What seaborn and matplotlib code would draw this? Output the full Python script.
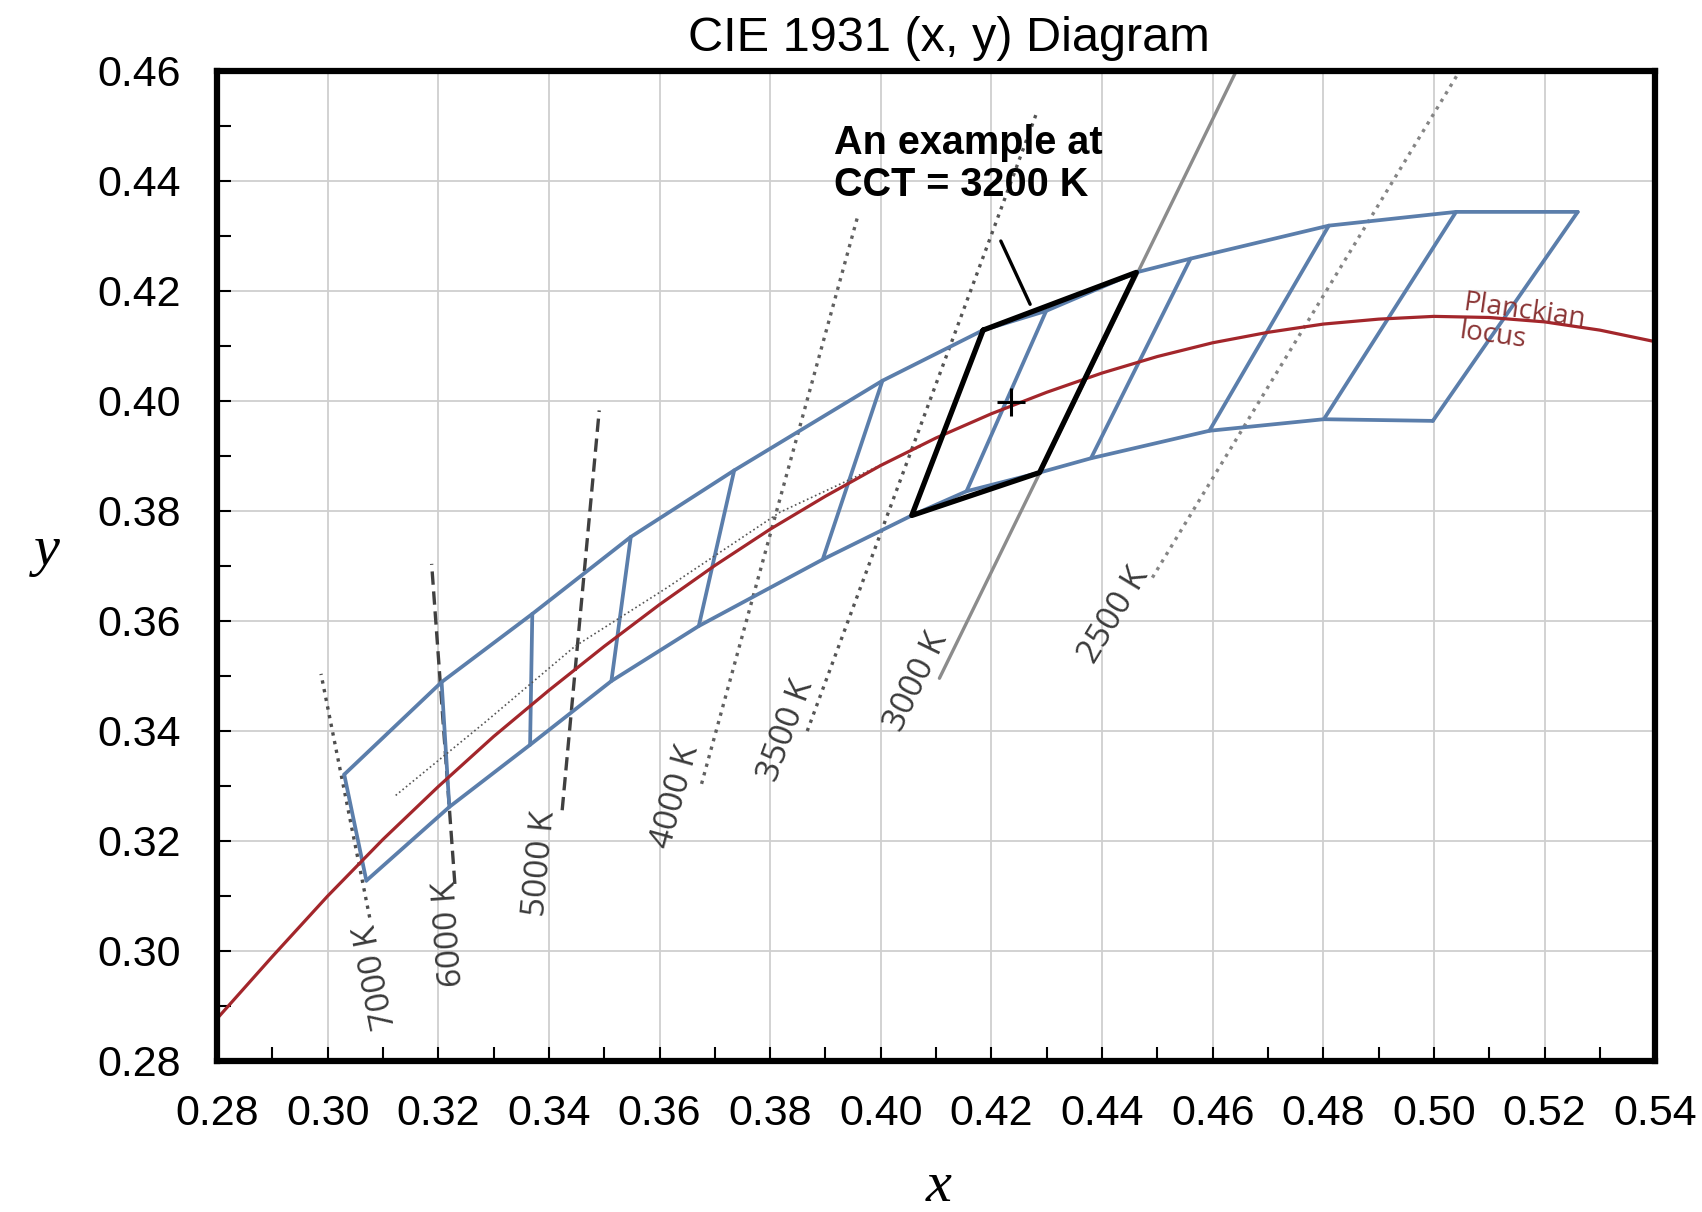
import numpy as np
import pandas as pd
import matplotlib
matplotlib.use("Agg")
import matplotlib.pyplot as plt
from matplotlib.ticker import MultipleLocator
import seaborn as sns

# %%
# Planckian locus
locus_x = [0.28, 0.29, 0.30, 0.31, 0.32, 0.33, 0.34, 0.35, 0.36, 0.37, 0.38, 0.39, 0.40, 0.41,
           0.42, 0.43, 0.44, 0.45, 0.46, 0.47, 0.48, 0.49, 0.50, 0.51, 0.52, 0.53, 0.54]
locus_y = [0.2876, 0.2989, 0.3099, 0.3202, 0.3298, 0.3389, 0.3473, 0.3553, 0.3629, 0.3700,
           0.3766, 0.3826, 0.3882, 0.3932, 0.3976, 0.4015, 0.4050, 0.4080, 0.4105, 0.4124,
           0.4139, 0.4148, 0.4153, 0.4151, 0.4143, 0.4128, 0.4107]

# thin dotted line through the quadrangle centres
centro_x = [0.3123, 0.3287, 0.3447, 0.3611, 0.3818, 0.4073]
centro_y = [0.3282, 0.3417, 0.3553, 0.3658, 0.3797, 0.3917]

# upper / lower boundaries of the quadrangles
sup_x = [0.3030, 0.3206, 0.3370, 0.3548, 0.3735, 0.4003, 0.4185, 0.4299, 0.4462, 0.4560, 0.4810, 0.5040, 0.5260]
sup_y = [0.3320, 0.3488, 0.3612, 0.3752, 0.3873, 0.4036, 0.4128, 0.4163, 0.4233, 0.4258, 0.4318, 0.4343, 0.4343]
inf_x = [0.3070, 0.3220, 0.3366, 0.3513, 0.3671, 0.3895, 0.4056, 0.4155, 0.4287, 0.4380, 0.4594, 0.4801, 0.4998]
inf_y = [0.3127, 0.3261, 0.3374, 0.3490, 0.3590, 0.3711, 0.3791, 0.3835, 0.3869, 0.3895, 0.3945, 0.3966, 0.3963]

# quadrangle dividers (top point -> bottom point)
div_top_x = [0.3030, 0.3206, 0.3370, 0.3548, 0.3735, 0.4003, 0.4299, 0.4560, 0.4810, 0.5040, 0.5260]
div_top_y = [0.3320, 0.3488, 0.3612, 0.3752, 0.3873, 0.4036, 0.4163, 0.4258, 0.4318, 0.4343, 0.4343]
div_bot_x = [0.3070, 0.3220, 0.3366, 0.3513, 0.3671, 0.3895, 0.4155, 0.4380, 0.4594, 0.4801, 0.4998]
div_bot_y = [0.3127, 0.3261, 0.3374, 0.3490, 0.3590, 0.3711, 0.3835, 0.3895, 0.3945, 0.3966, 0.3963]

# example quadrangle at CCT = 3200 K
ex_x = [0.4185, 0.4462, 0.4287, 0.4056, 0.4185]
ex_y = [0.4128, 0.4233, 0.3869, 0.3791, 0.4128]
ex_centro = (0.4236, 0.3998)

# isotemperature lines
iso_label = ['7000 K', '6000 K', '5000 K', '4000 K', '3500 K', '3000 K', '2500 K']
iso_bot_x = [0.3076, 0.3230, 0.3424, 0.3676, 0.3867, 0.4106, 0.4491]
iso_bot_y = [0.3060, 0.3121, 0.3255, 0.3303, 0.3399, 0.3495, 0.3678]
iso_top_x = [0.2988, 0.3188, 0.3491, 0.3958, 0.4281, 0.4643, 0.5047]
iso_top_y = [0.3503, 0.3703, 0.3982, 0.4334, 0.4521, 0.4600, 0.4600]
iso_txt_x = [0.3088, 0.3221, 0.3385, 0.3630, 0.3830, 0.4064, 0.4421]
iso_txt_y = [0.2952, 0.3030, 0.3158, 0.3279, 0.3399, 0.3489, 0.3609]
iso_estilo = [':', (0, (4, 2)), (0, (4, 2)), ':', ':', '-', ':']
iso_cor = ['#4d4d4d', '#404040', '#404040', '#606060', '#555555', '#8c8c8c', '#858585']

x_ticks = [0.28, 0.30, 0.32, 0.34, 0.36, 0.38, 0.40, 0.42, 0.44, 0.46, 0.48, 0.50, 0.52, 0.54]
y_ticks = [0.28, 0.30, 0.32, 0.34, 0.36, 0.38, 0.40, 0.42, 0.44, 0.46]

# %%
sns.set_theme(style="ticks")
plt.rcParams['font.family'] = ['Liberation Sans', 'DejaVu Sans']
plt.rcParams['text.color'] = 'black'
plt.rcParams['axes.labelcolor'] = 'black'
plt.rcParams['xtick.labelcolor'] = 'black'
plt.rcParams['ytick.labelcolor'] = 'black'

fig, ax = plt.subplots(figsize=(17.02, 12.12), dpi=100)
fig.subplots_adjust(left=0.1275, right=0.9725, bottom=0.125, top=0.9418)
ax.set_xlim(0.28, 0.54)
ax.set_ylim(0.28, 0.46)

azul = '#5b7eab'

# isotemperature lines
for i in range(len(iso_label)):
    sns.lineplot(x=[iso_bot_x[i], iso_top_x[i]], y=[iso_bot_y[i], iso_top_y[i]],
                 sort=False, estimator=None, color=iso_cor[i], lw=2.4,
                 linestyle=iso_estilo[i], ax=ax, zorder=2)

# quadrangles
sns.lineplot(x=sup_x, y=sup_y, sort=False, estimator=None, color=azul, lw=2.7, ax=ax, zorder=3)
sns.lineplot(x=inf_x, y=inf_y, sort=False, estimator=None, color=azul, lw=2.7, ax=ax, zorder=3)
df_div = pd.DataFrame({
    'x': div_top_x + div_bot_x,
    'y': div_top_y + div_bot_y,
    'seg': list(range(len(div_top_x))) * 2,
})
sns.lineplot(data=df_div, x='x', y='y', units='seg', estimator=None, sort=False,
             color=azul, lw=2.7, ax=ax, zorder=3)

# centre line + Planckian locus
sns.lineplot(x=centro_x, y=centro_y, sort=False, estimator=None, color='#555555',
             lw=1.2, linestyle=':', ax=ax, zorder=3)
sns.lineplot(x=locus_x, y=locus_y, sort=False, estimator=None, color='#a3262b',
             lw=2.3, ax=ax, zorder=4)

# example at 3200 K
sns.lineplot(x=ex_x, y=ex_y, sort=False, estimator=None, color='black', lw=3.8, ax=ax, zorder=5)
ax.plot([ex_centro[0]], [ex_centro[1]], marker='+', color='black', ms=20, mew=2.2, zorder=6)
ax.plot([0.4217, 0.4270], [0.4290, 0.4175], color='black', lw=2.4, zorder=6)
ax.text(0.3915, 0.4502, "An example at\nCCT = 3200 K", ha='left', va='top',
        fontsize=28.5, fontweight='bold', color='black', linespacing=1.12, zorder=7)

# labels of the isotemperature lines, along the line
for i in range(len(iso_label)):
    p0 = ax.transData.transform((iso_bot_x[i], iso_bot_y[i]))
    p1 = ax.transData.transform((iso_top_x[i], iso_top_y[i]))
    ang = np.degrees(np.arctan2(p1[1] - p0[1], p1[0] - p0[0]))
    ax.text(iso_txt_x[i], iso_txt_y[i], iso_label[i], rotation=ang, rotation_mode='anchor',
            ha='center', va='center', fontsize=24, color='#3a3a3a',
            family=['Open Sans', 'DejaVu Sans'], zorder=7)

ax.text(0.5050, 0.4152, "Planckian\nlocus", rotation=-8, rotation_mode='anchor',
        ha='left', va='center', fontsize=20, color='#8a3434', linespacing=1.0,
        family=['Open Sans', 'DejaVu Sans'], zorder=7)

# axes
ax.set_xticks(x_ticks)
ax.set_yticks(y_ticks)
ax.set_xticklabels([f"{t:.2f}" for t in x_ticks])
ax.set_yticklabels([f"{t:.2f}" for t in y_ticks])
ax.xaxis.set_minor_locator(MultipleLocator(0.01))
ax.yaxis.set_minor_locator(MultipleLocator(0.01))
ax.tick_params(axis='both', which='both', direction='in', length=10, width=1.5, color='black')
ax.tick_params(axis='x', which='major', labelsize=31, pad=24, labelcolor='black')
ax.tick_params(axis='y', which='major', labelsize=31, pad=26, labelcolor='black')
ax.grid(True, which='major', color='#cfcfcf', lw=1.3)
ax.set_axisbelow(True)
for s in ax.spines.values():
    s.set_linewidth(4.5)
    s.set_color('black')
    s.set_zorder(8)

ax.set_xlabel("x", fontsize=42, fontstyle='italic', color='black',
              family=['Liberation Serif', 'DejaVu Serif'])
ax.set_ylabel("y", fontsize=42, fontstyle='italic', rotation=0, color='black',
              family=['Liberation Serif', 'DejaVu Serif'])
ax.xaxis.label.set_va('center')
ax.yaxis.label.set_va('center')
ax.yaxis.label.set_ha('center')
ax.xaxis.set_label_coords(0.502, -0.128)
ax.yaxis.set_label_coords(-0.118, 0.515)
ax.set_title("CIE 1931 (x, y) Diagram", fontsize=35, x=0.509, pad=14, color='black')

plt.savefig("out.png", dpi=100)
